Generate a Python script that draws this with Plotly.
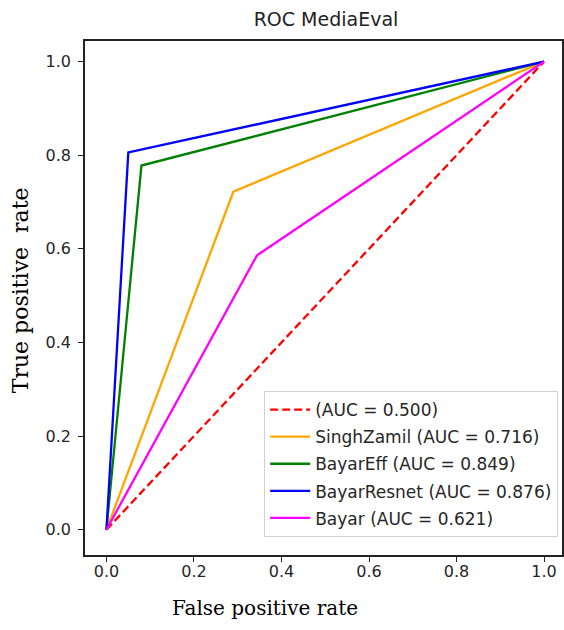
import plotly.graph_objects as go

names = ["(AUC = 0.500)", "SinghZamil (AUC = 0.716)", "BayarEff (AUC = 0.849)",
         "BayarResnet (AUC = 0.876)", "Bayar (AUC = 0.621)"]
fpr = [[0, 1], [0, 0.290, 1], [0, 0.080, 1], [0, 0.050, 1], [0, 0.344, 1]]
tpr = [[0, 1], [0, 0.722, 1], [0, 0.778, 1], [0, 0.806, 1], [0, 0.586, 1]]
colors = ["red", "orange", "green", "blue", "magenta"]
dashes = ["8px,4px", "solid", "solid", "solid", "solid"]
ticks = [0.0, 0.2, 0.4, 0.6, 0.8, 1.0]
tick_text = ["0.0", "0.2", "0.4", "0.6", "0.8", "1.0"]

fig = go.Figure()
for i, (n, x, y, c, d) in enumerate(zip(names, fpr, tpr, colors, dashes)):
    fig.add_trace(go.Scatter(x=x, y=y, mode="lines", name=n, legendgroup=f"g{i}",
                             line=dict(color=c, width=2.3, dash=d)))

axis_common = dict(showgrid=False, zeroline=False, showline=True, linecolor="#222",
                   linewidth=1.5, mirror=True, ticks="outside", ticklen=5,
                   tickcolor="#222", tickvals=ticks, ticktext=tick_text,
                   tickfont=dict(family="DejaVu Sans", size=16, color="#262626"))

fig.update_layout(
    width=564, height=630,
    margin=dict(l=85, r=0, t=41, b=75),
    paper_bgcolor="white", plot_bgcolor="white",
    title=dict(text="ROC MediaEval", x=326 / 564, xanchor="center", y=1 - 19 / 630,
               yanchor="middle",
               font=dict(family="DejaVu Sans", size=19, color="#222")),
    xaxis=dict(range=[-0.049, 1.041], ticklabelstandoff=-4, **axis_common),
    yaxis=dict(range=[-0.054, 1.044], ticklabelstandoff=4, **axis_common),
    legend=dict(x=0.992, xanchor="right", y=0.035, yanchor="bottom",
                bordercolor="#d0d0d0", borderwidth=1, bgcolor="rgba(255,255,255,0.9)",
                font=dict(family="DejaVu Sans", size=17, color="#262626"),
                tracegroupgap=2, itemwidth=40),
    showlegend=True,
    annotations=[
        dict(text="False positive rate", xref="paper", yref="paper",
             x=(266 - 85) / 479, y=-(608 - 555) / 514, xanchor="center", yanchor="middle",
             showarrow=False,
             font=dict(family="DejaVu Serif", size=20, color="black")),
        dict(text="True positive  rate", xref="paper", yref="paper",
             x=-(85 - 20) / 479, y=(555 - 290) / 514, xanchor="center", yanchor="middle",
             textangle=-90, showarrow=False,
             font=dict(family="DejaVu Serif", size=22, color="black")),
    ],
)

fig.write_html("out.html")
